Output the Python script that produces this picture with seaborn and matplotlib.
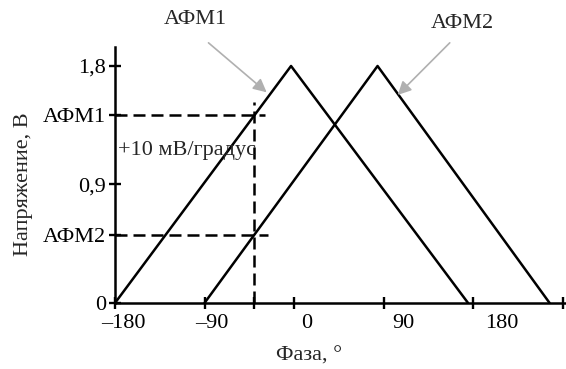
import numpy as np
import pandas as pd
import seaborn as sns
import matplotlib.pyplot as plt

# -----------------------------
# Data
# -----------------------------
phase1 = [-180, -3, 175]
volt1 = [0, 1.8, 0]
phase2 = [-90, 84, 257]
volt2 = [0, 1.8, 0]

phase_meas = -40
afm1_level = 1.43
afm2_level = 0.52

x_ticks = [-180, -90, phase_meas, 0, 90, 180, 270]
# the printed labels sit a bit right of their ticks in the original
x_label_pos = [-172, -83, 13, 110, 209]
x_labels = ['–180', '–90', '0', '90', '180']
y_ticks = [0, afm2_level, 0.9, afm1_level, 1.8]
y_labels = ['0', 'АФМ2', '0,9', 'АФМ1', '1,8']

df = pd.DataFrame({
    'phase': phase1 + phase2,
    'volt': volt1 + volt2,
    'curve': ['АФМ1'] * 3 + ['АФМ2'] * 3,
})

# -----------------------------
# Style
# -----------------------------
sns.set_style('ticks')
plt.rcParams['font.family'] = ['Liberation Serif', 'DejaVu Serif']
fs = 16

fig = plt.figure(figsize=(5.66, 3.69), dpi=100)
ax = fig.add_axes([0.2032, 0.1789, 0.797, 0.694])

sns.lineplot(data=df, x='phase', y='volt', units='curve', estimator=None,
             color='black', lw=1.8, sort=False, ax=ax, legend=False)

# dashed guides
dash = dict(color='black', lw=1.8, ls=(0, (4.8, 2.4)))
ax.plot([-180, -29.5], [afm1_level, afm1_level], **dash)
ax.plot([-180, -26], [afm2_level, afm2_level], **dash)
ax.plot([phase_meas, phase_meas], [0, 1.53], **dash)

ax.set_xlim(-180, 273.6)
ax.set_ylim(0, 1.945)

ax.set_xticks(x_ticks)
ax.set_xticklabels([''] * len(x_ticks))
ax.set_xticks(x_label_pos, minor=True)
ax.set_xticklabels(x_labels, minor=True)
ax.set_yticks(y_ticks)
ax.set_yticklabels(y_labels)

ax.tick_params(axis='both', which='major', direction='inout', length=9, width=1.7,
               color='black', labelsize=fs, labelcolor='black')
ax.tick_params(axis='x', which='minor', length=0, pad=8, labelsize=fs,
               labelcolor='black')
ax.tick_params(axis='y', pad=2)

for side in ['top', 'right']:
    ax.spines[side].set_visible(False)
for side in ['left', 'bottom']:
    ax.spines[side].set_linewidth(1.8)
    ax.spines[side].set_color('black')

ax.set_xlabel('Фаза, °', fontsize=fs)
ax.set_ylabel('Напряжение, В', fontsize=fs)
ax.xaxis.set_label_coords(0.43, -0.172)
ax.yaxis.set_label_coords(-0.182, 0.465)

ax.text(-177, 1.16, '+10 мВ/градус', fontsize=fs, ha='left', va='center')

# callouts
arrow = dict(arrowstyle='-|>', color='#b0b0b0', lw=1.2, mutation_scale=20,
             shrinkA=0, shrinkB=0)
ax.annotate('', xy=(-27.5, 1.6), xytext=(-86, 1.976), arrowprops=arrow,
            annotation_clip=False)
ax.annotate('', xy=(104.3, 1.58), xytext=(156.6, 1.976), arrowprops=arrow,
            annotation_clip=False)
ax.text(-99, 2.15, 'АФМ1', fontsize=fs, ha='center', va='center', clip_on=False)
ax.text(169.7, 2.12, 'АФМ2', fontsize=fs, ha='center', va='center', clip_on=False)

fig.savefig('out.png', dpi=100)
